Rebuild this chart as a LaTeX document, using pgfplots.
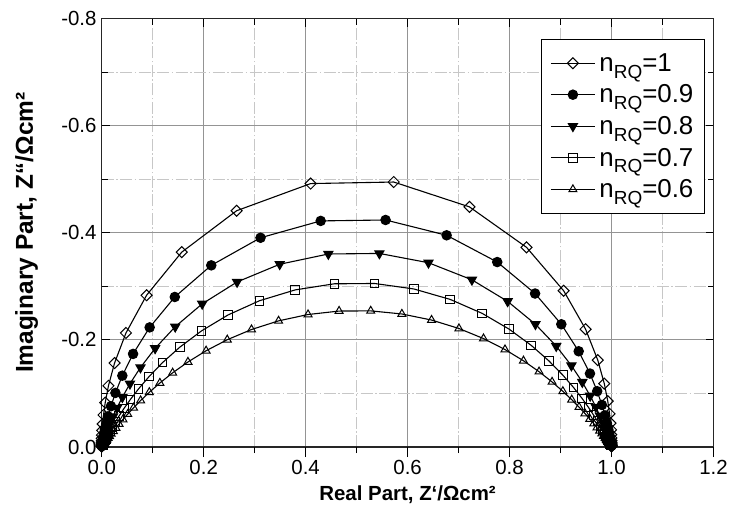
\documentclass[border=0pt]{standalone}
\usepackage{fontspec}
\setmainfont{Liberation Sans}
\usepackage{pgfplots}
\pgfplotsset{compat=1.18}

\newcommand{\nRQ}[1]{n\raisebox{-0.26em}{\fontsize{19}{20}\selectfont RQ}=#1}

\begin{document}
\begin{tikzpicture}
\path[use as bounding box] (-101.7bp,-72bp) rectangle (635.3bp,447bp);

\begin{axis}[
  scale only axis, width=611.8bp, height=428.5bp,
  xmin=0, xmax=1.2, ymin=0, ymax=0.8,
  xtick={0,0.2,0.4,0.6,0.8,1.0,1.2},
  xticklabels={0.0,0.2,0.4,0.6,0.8,1.0,1.2},
  ytick={0,0.2,0.4,0.6,0.8},
  yticklabels={0.0,-0.2,-0.4,-0.6,-0.8},
  minor x tick num=1, minor y tick num=1,
  xtick pos=right, xticklabel pos=left, ytick pos=both,
  tick align=inside,
  major tick length=8bp, minor tick length=6bp,
  tick style={black, line width=1.1bp},
  grid=both,
  major grid style={line width=1bp, black!42},
  minor grid style={line width=0.9bp, black!22, dash pattern=on 12bp off 2.5bp on 1.5bp off 2.5bp},
  axis line style={line width=1.5bp, black!85},
  ticklabel style={font=\fontsize{20.5}{24}\selectfont},
  xticklabel style={anchor=north, inner sep=0pt, yshift=-13bp},
  yticklabel style={anchor=east, inner sep=0pt, xshift=-5bp},
  xlabel={Real Part, Z‘/Ωcm²},
  ylabel={Imaginary Part, Z‘‘/Ωcm²},
  xlabel style={font=\bfseries\fontsize{20.5}{24}\selectfont,
    at={(axis description cs:0.5,-0.1117)}, anchor=center},
  ylabel style={font=\bfseries\fontsize{24.5}{27}\selectfont,
    at={(axis description cs:-0.1226,0.5)}, anchor=center},
  every axis plot/.append style={black, line width=1.1bp},
  legend style={at={(axis description cs:0.9861,0.9522)}, anchor=north east,
    draw=black, line width=1.2bp, fill=white, font=\fontsize{26}{30}\selectfont,
    inner xsep=9bp, inner ysep=12bp, row sep=8bp, column sep=2bp,
    nodes={inner sep=2bp}},
  legend cell align=left,
  legend image code/.code={\draw[mark repeat=2,mark phase=2] plot coordinates {(0bp,0bp) (22bp,0bp) (44bp,0bp)};},
]

% n = 1
\addplot[mark=square, mark size=3.9bp, mark options={solid, rotate=45, fill=white, line width=1bp}] coordinates {
(0.0000,0.00083) (0.0000,0.00116) (0.0000,0.00161) (0.0000,0.00224) (0.0000,0.00311)
(0.0000,0.00432) (0.0000,0.0060) (0.00007,0.00833) (0.00013,0.01158) (0.00026,0.01609)
(0.0005,0.02234) (0.00096,0.03103) (0.00186,0.04308) (0.00358,0.05976) (0.0069,0.08276)
(0.01323,0.11425) (0.02523,0.1568) (0.0476,0.2129) (0.0880,0.2833) (0.1570,0.3638)
(0.2646,0.4411) (0.4098,0.4918) (0.5728,0.4947) (0.7213,0.4483) (0.8333,0.3727)
(0.9061,0.2917) (0.9491,0.2199) (0.9730,0.1622) (0.9858,0.1183) (0.9926,0.08572)
(0.99615,0.06191) (0.9980,0.04464) (0.99896,0.03216) (0.99946,0.02316) (0.99972,0.01667)
(0.99986,0.0120) (0.99993,0.00864) (0.99996,0.00622) (0.99998,0.00447) (0.99999,0.00322)
(1.0000,0.00232) (1.0000,0.00167) (1.0000,0.0012)
};
\addlegendentry{\nRQ{1}}

% n = 0.9
\addplot[mark=*, mark size=4.7bp, mark options={solid}] coordinates {
(0.00027,0.00167) (0.00036,0.00225) (0.00049,0.00302) (0.00066,0.00406) (0.00089,0.00546)
(0.00122,0.00733) (0.00166,0.00985) (0.00228,0.01323) (0.00314,0.01776) (0.00436,0.02382)
(0.00611,0.03193) (0.00867,0.04275) (0.01246,0.05712) (0.01818,0.07611) (0.02692,0.10100)
(0.04045,0.13315) (0.06151,0.17378) (0.09407,0.22329) (0.14339,0.28011) (0.21490,0.33913)
(0.31152,0.39064) (0.42955,0.42211) (0.55680,0.42384) (0.67656,0.39525) (0.77584,0.34529)
(0.85001,0.28654) (0.90149,0.22916) (0.93560,0.17873) (0.95768,0.13713) (0.97188,0.10411)
(0.98104,0.07850) (0.98702,0.05893) (0.99099,0.04412) (0.99365,0.03296) (0.99548,0.02459)
(0.99675,0.01833) (0.99764,0.01366) (0.99828,0.01017) (0.99874,0.00757) (0.99907,0.00563)
(0.99932,0.00419) (0.9995,0.00312) (0.99963,0.00232)
};
\addlegendentry{\nRQ{0.9}}

% n = 0.8
\addplot[mark=triangle*, mark size=5.2bp, mark options={solid, rotate=180}] coordinates {
(0.00107,0.00327) (0.00140,0.00425) (0.00183,0.00552) (0.00239,0.00717) (0.00312,0.00932)
(0.00410,0.01210) (0.00538,0.01570) (0.00708,0.02037) (0.00936,0.02638) (0.01241,0.03413)
(0.01653,0.04407) (0.02215,0.05676) (0.02987,0.07285) (0.04054,0.09305) (0.05537,0.11807)
(0.07604,0.14843) (0.10477,0.18421) (0.14421,0.22459) (0.19713,0.26727) (0.26550,0.30808)
(0.34916,0.34117) (0.44454,0.36034) (0.54467,0.36137) (0.64096,0.34402) (0.72613,0.31215)
(0.79622,0.27187) (0.85075,0.22916) (0.89152,0.18840) (0.92128,0.15206) (0.94271,0.12110)
(0.95808,0.09552) (0.96914,0.07483) (0.97712,0.05833) (0.98294,0.04530) (0.98720,0.03509)
(0.99036,0.02713) (0.99270,0.02095) (0.99446,0.01615) (0.99578,0.01245) (0.99678,0.00959)
(0.99754,0.00738) (0.99812,0.00568) (0.99856,0.00437)
};
\addlegendentry{\nRQ{0.8}}

% n = 0.7
\addplot[mark=square, mark size=4.3bp, mark options={solid, fill=white, line width=1bp}] coordinates {
(0.0016,0.00311) (0.00201,0.00391) (0.00254,0.00492)
(0.00320,0.00619) (0.00404,0.00778) (0.00510,0.00977) (0.00644,0.01227) (0.00815,0.01540)
(0.01031,0.01930) (0.01307,0.02417) (0.01659,0.03022) (0.02109,0.03772) (0.02686,0.04697)
(0.03428,0.05831) (0.04386,0.07210) (0.05623,0.08871) (0.07224,0.10845) (0.09289,0.13146)
(0.11944,0.15764) (0.15323,0.18644) (0.19561,0.21667) (0.24754,0.24641) (0.30924,0.27298)
(0.37965,0.29334) (0.45624,0.30469) (0.53523,0.30529) (0.61228,0.29505) (0.68351,0.27555)
(0.74622,0.24950) (0.79923,0.21997) (0.84260,0.18968) (0.87727,0.16066) (0.90453,0.13415)
(0.92577,0.11079) (0.94222,0.09070) (0.95494,0.07376) (0.96479,0.05968) (0.97242,0.04809)
(0.97835,0.03863) (0.98298,0.03096) (0.98659,0.02477) (0.98942,0.01978) (0.99164,0.01578)
(0.99339,0.01258) (0.99477,0.01002) (0.99586,0.00797)
(0.99672,0.00635) (0.9974,0.00505) (0.99793,0.00401)
};
\addlegendentry{\nRQ{0.7}}

% n = 0.6
\addplot[mark=triangle, mark size=4.6bp, mark options={solid, fill=white, line width=1bp}] coordinates {
(0.00210,0.00287) (0.00256,0.00350) (0.00312,0.00426) (0.00380,0.00518) (0.00464,0.00630)
(0.00565,0.00766) (0.00689,0.00930) (0.00841,0.01130) (0.01026,0.01371) (0.01252,0.01663)
(0.01528,0.02015) (0.01866,0.02439) (0.02280,0.02947) (0.02786,0.03554) (0.03406,0.04277)
(0.04167,0.05133) (0.05098,0.06140) (0.06239,0.07315) (0.07635,0.08671) (0.09339,0.10217)
(0.11410,0.11948) (0.13914,0.13848) (0.16917,0.15876) (0.20475,0.17967) (0.24627,0.20028)
(0.29381,0.21935) (0.34694,0.23551) (0.40473,0.24737) (0.46561,0.25380) (0.52767,0.25414)
(0.58879,0.24835) (0.64699,0.23703) (0.70069,0.22127) (0.74886,0.20245) (0.79104,0.18195)
(0.82725,0.16101) (0.85785,0.14062) (0.88340,0.12147) (0.90455,0.10396) (0.92196,0.08830)
(0.93623,0.07453) (0.94789,0.06259) (0.95741,0.05235) (0.96518,0.04363) (0.97153,0.03626)
(0.97670,0.03007) (0.98093,0.02489) (0.98438,0.02058) (0.98721,0.01698) (0.98952,0.01401)
(0.99141,0.01154) (0.99296,0.00950) (0.99422,0.00782) (0.99526,0.00643) (0.99611,0.00529)
(0.99681,0.00435) (0.99738,0.00357)
};
\addlegendentry{\nRQ{0.6}}
\end{axis}

% outward ticks along the bottom edge
\begin{axis}[
  scale only axis, width=611.8bp, height=428.5bp,
  xmin=0, xmax=1.2, ymin=0, ymax=0.8,
  xtick={0,0.2,0.4,0.6,0.8,1.0,1.2}, xticklabels={},
  minor x tick num=1, ytick=\empty,
  xtick pos=left, tick align=outside,
  major tick length=10bp, minor tick length=6bp,
  tick style={black, line width=1.1bp},
  axis line style={draw=none},
]
\end{axis}
\end{tikzpicture}
\end{document}
